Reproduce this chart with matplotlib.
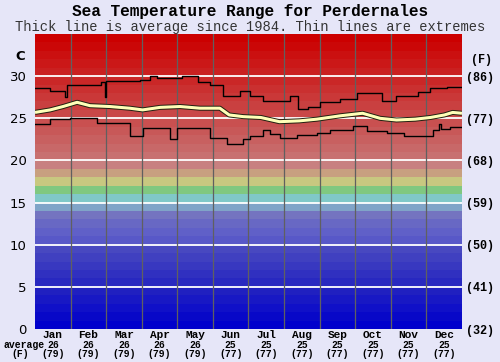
import numpy as np
import matplotlib
matplotlib.use('Agg')
from matplotlib import pyplot as plt

# data (day of year, deg C)
max_days = [0, 13, 26, 27, 56, 60, 61, 62, 90, 98, 104, 126, 139, 150, 161, 175, 184, 195,
            218, 225, 233, 244, 261, 275, 297, 309, 327, 338, 352, 365]
max_vals = [28.6, 28.2, 27.5, 29.0, 29.3, 27.5, 29.4, 29.4, 29.5, 30.0, 29.8, 30.0, 29.3, 29.0,
            27.6, 28.2, 27.6, 27.0, 27.6, 26.1, 26.4, 26.9, 27.3, 28.0, 27.0, 27.6, 28.1, 28.6,
            28.7, 28.7]

min_days = [0, 13, 30, 53, 81, 92, 115, 121, 150, 164, 178, 184, 195, 201, 209, 224, 241, 252,
            272, 284, 301, 315, 340, 345, 347, 355, 365]
min_vals = [24.3, 24.9, 25.0, 24.4, 22.9, 23.9, 22.5, 23.8, 22.7, 22.0, 22.5, 22.9, 23.6, 23.1,
            22.7, 23.0, 23.3, 23.6, 24.1, 23.5, 23.2, 22.9, 23.6, 24.3, 23.7, 24.0, 24.0]

avg_days = [0, 13, 24, 36, 47, 64, 81, 92, 107, 124, 141, 158, 166, 178, 193, 209, 226, 241,
            261, 280, 295, 309, 325, 338, 350, 357, 365]
avg_vals = [25.7, 26.0, 26.4, 26.9, 26.5, 26.4, 26.2, 26.0, 26.3, 26.4, 26.2, 26.2, 25.4, 25.2,
            25.1, 24.6, 24.7, 24.9, 25.3, 25.6, 25.0, 24.8, 24.9, 25.1, 25.4, 25.7, 25.6]

months = ['Jan', 'Feb', 'Mar', 'Apr', 'May', 'Jun', 'Jul', 'Aug', 'Sep', 'Oct', 'Nov', 'Dec']
month_c = [26, 26, 26, 26, 26, 25, 25, 25, 25, 25, 25, 25]
month_f = [79, 79, 79, 79, 79, 77, 77, 77, 77, 77, 77, 77]

c_ticks = [0, 5, 10, 15, 20, 25, 30]
f_labels = ['(32)', '(41)', '(50)', '(59)', '(68)', '(77)', '(86)']

# band colours, one per degree
low_bands = ['#0000cc', '#0808c8', '#1010c8', '#1818c4', '#2020c0', '#2828c0', '#3030c0',
             '#3838c0', '#4040c0', '#4848c0', '#5858c8', '#6060c8', '#6868c4', '#7474c0',
             '#80a4c8', '#80c8c8', '#80c880', '#c8c880', '#c8a080', '#c88080']


def red_band(i):
    t = i / 14.0
    r = int(200 + 4 * t)
    g = int(112 * (1 - t))
    return '#%02x%02x%02x' % (r, g, g)


bands = low_bands + [red_band(i) for i in range(15)]

bg = '#e6e6f8'
fig = plt.figure(figsize=(5, 3.62), dpi=100, facecolor=bg)
ax = fig.add_axes([0.07, 0.091, 0.854, 0.815])

for i, col in enumerate(bands):
    ax.axhspan(i, i + 1, color=col, lw=0)

for v in c_ticks[1:]:
    ax.axhline(v, color='white', lw=1.3)

for m in range(1, 12):
    ax.axvline(m * 365 / 12, color='#606060', lw=0.9)

ax.plot(max_days, max_vals, drawstyle='steps-post', color='black', lw=1.0)
ax.plot(min_days, min_vals, drawstyle='steps-post', color='black', lw=1.0)
ax.plot(avg_days, avg_vals, color='#202010', lw=3.6, solid_capstyle='butt')
ax.plot(avg_days, avg_vals, color='#ffffb8', lw=2.2, solid_capstyle='butt')

ax.set_xlim(0, 365)
ax.set_ylim(0, 35)
ax.set_xticks([])
ax.set_yticks(c_ticks)
ax.set_yticklabels([str(v) for v in c_ticks], fontsize=9.5, family='DejaVu Sans')
ax.tick_params(axis='y', length=0, pad=6)
for s in ax.spines.values():
    s.set_visible(False)

ax2 = ax.twinx()
ax2.set_ylim(0, 35)
ax2.set_yticks(c_ticks)
ax2.set_yticklabels(f_labels, fontsize=8.5, family='Liberation Mono', fontweight='bold')
ax2.tick_params(axis='y', length=0, pad=3)
for s in ax2.spines.values():
    s.set_visible(False)

fig.text(0.5, 0.967, 'Sea Temperature Range for Perdernales', ha='center', va='center',
         family='Liberation Mono', fontweight='bold', fontsize=11.6)
fig.text(0.5, 0.925, 'Thick line is average since 1984. Thin lines are extremes', ha='center',
         va='center', family='Liberation Mono', fontsize=9.9, color='#333333')
fig.text(0.04, 0.845, 'C', ha='center', va='center', family='DejaVu Sans', fontweight='bold',
         fontsize=9.5)
fig.text(0.963, 0.833, '(F)', ha='center', va='center', family='Liberation Mono',
         fontweight='bold', fontsize=8.5)

mono = dict(family='Liberation Mono', fontweight='bold', ha='center', va='center')
for i, name in enumerate(months):
    xc = (i + 0.5) * 365 / 12
    ax.text(xc, -0.65, name, fontsize=8, **mono)
    ax.text(xc, -1.9, str(month_c[i]), fontsize=7, **mono)
    ax.text(xc, -3.0, '(%d)' % month_f[i], fontsize=7, **mono)
fig.text(0.006, 0.047, 'average', ha='left', va='center', family='Liberation Mono',
         fontweight='bold', fontsize=7)
fig.text(0.04, 0.022, '(F)', ha='center', va='center', family='Liberation Mono',
         fontweight='bold', fontsize=7)

fig.savefig('out.png', dpi=100, facecolor=bg)
